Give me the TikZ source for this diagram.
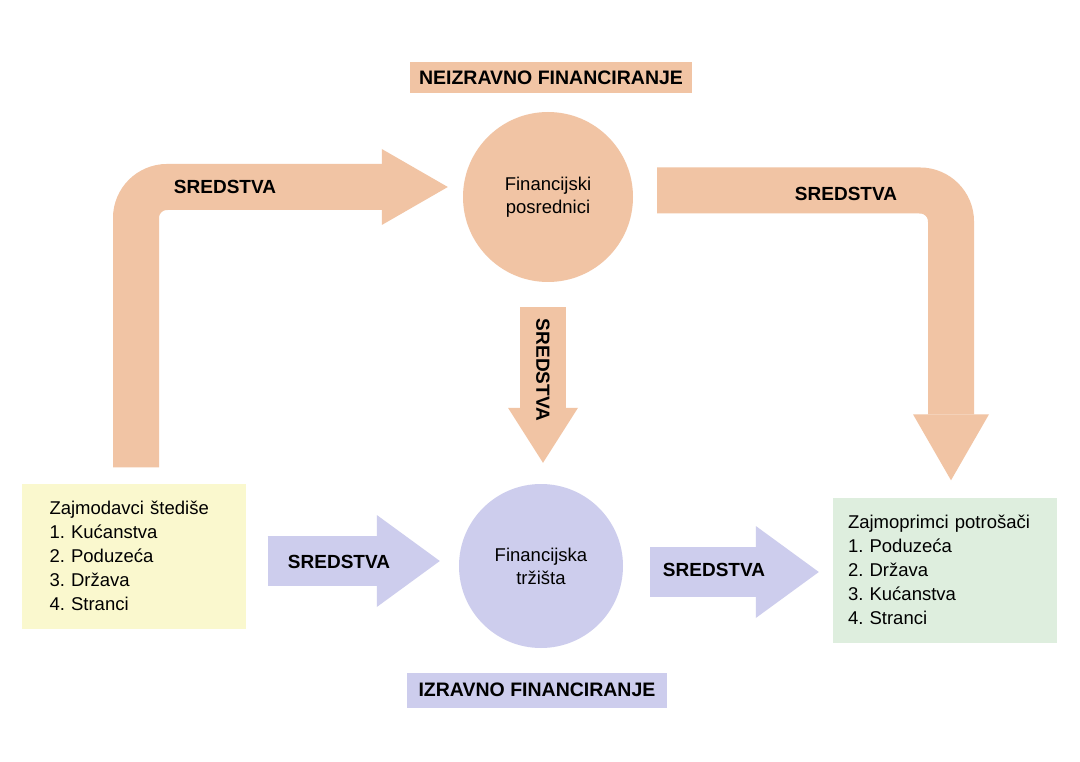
\documentclass[tikz,border=0pt]{standalone}
\usepackage{fontspec}
\setmainfont{Liberation Sans}
\usetikzlibrary{calc, arrows.meta, positioning}
\definecolor{peach}{RGB}{241,196,164}
\definecolor{lavender}{RGB}{205,205,237}
\definecolor{paleyellow}{RGB}{250,248,206}
\definecolor{palegreen}{RGB}{222,238,222}
\frenchspacing

\begin{document}
\begin{tikzpicture}[
    x=1pt, y=-1pt,
    circ node/.style={circle, inner sep=0pt, align=center, font=\fontsize{18.5}{23}\selectfont},
    box node/.style={rectangle, minimum height=145pt, align=left, font=\fontsize{18.5}{24}\selectfont},
    title node/.style={rectangle, inner sep=0pt, font=\bfseries\fontsize{19.5}{22}\selectfont},
    flow label/.style={inner sep=0pt, font=\bfseries\fontsize{19}{22}\selectfont},
    fund arrow/.style={draw=peach, line width=46pt, rounded corners=31pt, -{Triangle[length=66pt, width=76pt, line width=0pt]}},
    short head/.style={-{Triangle[length=55pt, width=70pt, line width=0pt]}},
    market arrow/.style={draw=lavender, line width=50pt, -{Triangle[length=63pt, width=92pt, line width=0pt]}}
]
\useasboundingbox (0,0) rectangle (1080,762);
\fill[white] (0,0) rectangle (1080,762);

% Main Nodes
\node[box node, fill=paleyellow, inner xsep=28pt, text width=168pt] (lenders) at (133.5,556) {Zajmodavci štediše\\1. Kućanstva\\2. Poduzeća\\3. Država\\4. Stranci};
\node[box node, fill=palegreen, inner xsep=15pt, text width=194pt] (borrowers) at (945,570) {Zajmoprimci potrošači\\1. Poduzeća\\2. Država\\3. Kućanstva\\4. Stranci};
\node[circ node, fill=peach, minimum size=170pt] (intermed) at (548,197) {Financijski\\posrednici};
\node[circ node, fill=lavender, minimum size=164pt] (markets) at (541,566) {Financijska\\tržišta};

% Title boxes
\node[title node, fill=peach, minimum width=282pt, minimum height=31pt] (indirect) at (551,78) {NEIZRAVNO FINANCIRANJE};
\node[title node, fill=lavender, minimum width=260pt, minimum height=35pt] (direct) at (537,690) {IZRAVNO FINANCIRANJE};

% Indirect route
\draw[fund arrow] ($(lenders.north)+(2.5,-16)$) |- ($(intermed.west)+(-15,-10)$);
\draw[fund arrow] ($(intermed.east)+(24,-6.5)$) -| ($(borrowers.north)+(6,-17)$);
\draw[fund arrow, short head] ($(intermed.south -| markets.north)+(2,25)$) -- ($(markets.north)+(2,-21)$);

% Direct route
\draw[market arrow] ($(lenders.east)+(22,5)$) -- ($(markets.west)+(-19,-5)$);
\draw[market arrow] ($(markets.east)+(27,6)$) -- ($(borrowers.west)+(-14,2)$);

% Arrow labels
\node[flow label] (lblLeft) at (225,187) {SREDSTVA};
\node[flow label] (lblRight) at (846,194) {SREDSTVA};
\node[flow label, rotate=-90] (lblDown) at (543,370) {SREDSTVA};
\node[flow label] (lblIn) at (339,562) {SREDSTVA};
\node[flow label] (lblOut) at (714,570) {SREDSTVA};
\end{tikzpicture}
\end{document}
